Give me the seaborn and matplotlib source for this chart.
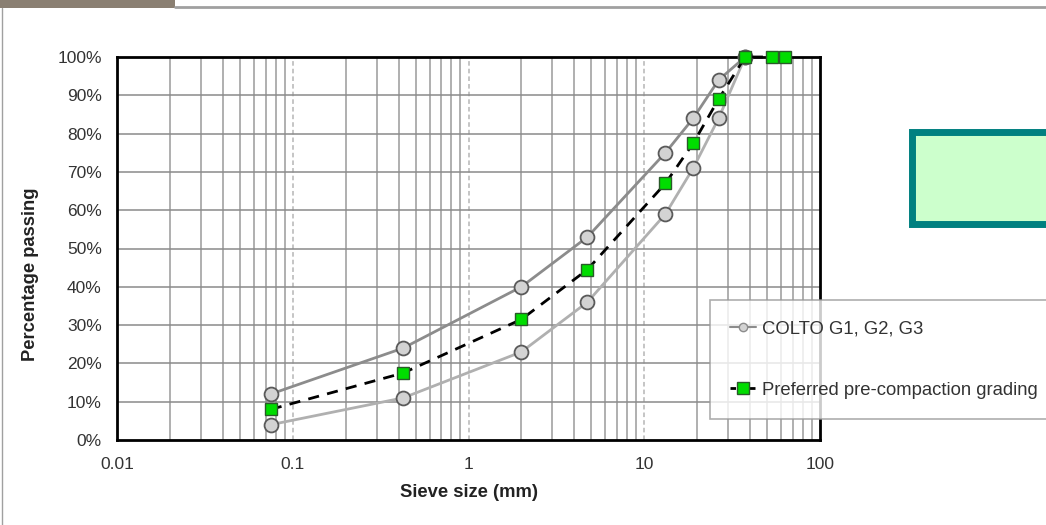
import numpy as np
import pandas as pd
import seaborn as sns
import matplotlib
matplotlib.use("Agg")
import matplotlib.pyplot as plt
from matplotlib.lines import Line2D
from matplotlib.patches import Rectangle
from matplotlib.ticker import FixedLocator, FuncFormatter, NullFormatter

# ---- data ----
sieve_colto = [0.075, 0.425, 2.0, 4.75, 13.2, 19.0, 26.5, 37.5]
colto_upper = [12, 24, 40, 53, 75, 84, 94, 100]
colto_lower = [4, 11, 23, 36, 59, 71, 84, 100]
sieve_pref = [0.075, 0.425, 2.0, 4.75, 13.2, 19.0, 26.5, 37.5, 53.0, 63.0]
pref_values = [8, 17.5, 31.5, 44.5, 67, 77.5, 89, 100, 100, 100]
x_ticks = [0.01, 0.1, 1, 10, 100]
x_tick_labels = ["0.01", "0.1", "1", "10", "100"]
y_ticks = list(range(0, 101, 10))
legend_labels = ["COLTO G1, G2, G3", "Preferred pre-compaction grading"]

sns.set_style("white")
plt.rcParams["font.family"] = ["Liberation Sans", "DejaVu Sans"]

fig = plt.figure(figsize=(10.46, 5.25), dpi=100)
ax = fig.add_axes([117/1046, 85/525, 703/1046, 383/525])

df_up = pd.DataFrame({"x": sieve_colto, "y": colto_upper})
df_lo = pd.DataFrame({"x": sieve_colto, "y": colto_lower})
df_pr = pd.DataFrame({"x": sieve_pref, "y": pref_values})

sns.lineplot(data=df_up, x="x", y="y", ax=ax, sort=False, color="#8c8c8c", lw=2,
             marker="o", markersize=10, markerfacecolor="#d3d3d3",
             markeredgecolor="#5a5a5a", markeredgewidth=1.3, zorder=4, clip_on=False)
sns.lineplot(data=df_lo, x="x", y="y", ax=ax, sort=False, color="#b0b0b0", lw=2,
             marker="o", markersize=10, markerfacecolor="#d3d3d3",
             markeredgecolor="#5a5a5a", markeredgewidth=1.3, zorder=4, clip_on=False)
sns.lineplot(data=df_pr, x="x", y="y", ax=ax, sort=False, color="black", lw=2,
             linestyle=(0, (4, 3)), marker="s", markersize=9,
             markerfacecolor="#00dd00", markeredgecolor="#2a5a2a",
             markeredgewidth=1.0, zorder=5, clip_on=False)

ax.set_xscale("log")
ax.set_xlim(0.01, 100)
ax.set_ylim(0, 100)

# grid
minor = [m * 10.0**e for e in range(-2, 2) for m in range(2, 10)]
for v in minor:
    ax.axvline(v, color="#9a9a9a", lw=1.1, zorder=1)
for v in [0.1, 1, 10]:
    ax.axvline(v, color="#b5b5b5", lw=1.1, ls=(0, (3, 2)), zorder=1)
for v in y_ticks[1:-1]:
    ax.axhline(v, color="#8a8a8a", lw=1.1, zorder=1)

ax.xaxis.set_major_locator(FixedLocator(x_ticks))
ax.xaxis.set_minor_formatter(NullFormatter())
ax.set_xticks(x_ticks)
ax.set_xticklabels(x_tick_labels)
ax.set_yticks(y_ticks)
ax.yaxis.set_major_formatter(FuncFormatter(lambda v, p: f"{int(v)}%"))
ax.tick_params(axis="both", labelsize=12.5, colors="#333333", length=0)
ax.tick_params(axis="y", pad=11)
ax.tick_params(axis="x", pad=12)
ax.tick_params(axis="x", which="minor", length=0)

for s in ax.spines.values():
    s.set_color("black")
    s.set_linewidth(2)
    s.set_visible(True)

ax.set_xlabel("Sieve size (mm)", fontsize=13.2, fontweight="bold", color="#222222", labelpad=9)
ax.set_ylabel("")
fig.text(31/1046, 1 - 274/525, "Percentage passing", rotation=90, fontsize=13.2,
         fontweight="bold", color="#222222", ha="center", va="center")

handles = [
    Line2D([], [], color="#8c8c8c", lw=1.5, marker="o", markersize=6,
           markerfacecolor="#d3d3d3", markeredgecolor="#8c8c8c"),
    Line2D([], [], color="black", lw=2, ls=(0, (2, 1.5)), marker="s", markersize=8,
           markerfacecolor="#00dd00", markeredgecolor="#2a5a2a"),
]
leg = fig.legend(handles, legend_labels, loc="upper left",
                 bbox_to_anchor=(710/1046, 1 - 300/525), fontsize=13.3,
                 frameon=True, fancybox=False, labelspacing=2.4,
                 handlelength=1.4, handletextpad=0.3, borderpad=1.1,
                 borderaxespad=0)
leg.get_frame().set_edgecolor("#999999")
leg.get_frame().set_linewidth(1.2)
for t in leg.get_texts():
    t.set_color("#333333")

# teal box
fig.patches.append(Rectangle((912/1046, (525-224)/525), 150/1046, 92/525,
                             transform=fig.transFigure, facecolor="#ccffcc",
                             edgecolor="#008080", lw=5, zorder=10))
# top header strip
fig.patches.append(Rectangle((0, 517/525), 175/1046, 8/525, transform=fig.transFigure,
                             facecolor="#8a7f72", edgecolor="none"))
fig.lines.append(Line2D([175/1046, 1], [518/525, 518/525], transform=fig.transFigure,
                        color="#a0a0a0", lw=2))
fig.lines.append(Line2D([2/1046, 2/1046], [0, 517/525], transform=fig.transFigure,
                        color="#a0a0a0", lw=1))

fig.savefig("out.png", dpi=100)
